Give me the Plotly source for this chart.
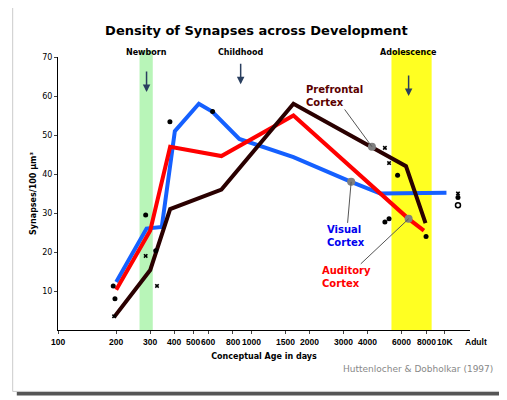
import plotly.graph_objects as go
import numpy as np

visual_x = [200, 287, 344, 402, 535, 627, 866, 1650, 3280, 4640, 10200]
visual_y = [12.3, 26, 26.4, 51, 58, 56, 49, 44.3, 38, 35, 35.2]

auditory_x = [200, 300, 380, 700, 1650, 6500, 7800]
auditory_y = [10.3, 25.5, 47, 44.6, 55, 28.5, 25.5]

prefrontal_x = [195, 300, 380, 700, 1650, 4200, 6300, 7950]
prefrontal_y = [3.3, 15.4, 31, 36, 58, 47, 42, 27.4]

dots_x = [193, 197, 284, 379, 320, 630, 4900, 5150, 5700, 8000, 11700]
dots_y = [11.3, 8, 29.5, 53.4, 20.3, 56, 27.7, 28.5, 39.7, 24, 34]
cross_x = [284, 325, 195, 4900, 5150, 11700]
cross_y = [19, 11.3, 3.5, 46.7, 42.8, 35]
open_x = [11700]
open_y = [32]

tick_vals = [100, 200, 300, 400, 500, 600, 800, 1000, 1500, 2000, 3000, 4000, 6000, 8000, 10000]
tick_text = ["100", "200", "300", "400", "500", "600", "800", "1000", "1500", "2000",
             "3000", "4000", "6000", "8000", "10K"]

fig = go.Figure()
fig.add_trace(go.Scatter(x=visual_x, y=visual_y, mode="lines", line=dict(color="#1560ff", width=4)))
fig.add_trace(go.Scatter(x=auditory_x, y=auditory_y, mode="lines", line=dict(color="#ff0000", width=4)))
fig.add_trace(go.Scatter(x=prefrontal_x, y=prefrontal_y, mode="lines", line=dict(color="#2a0000", width=4)))
fig.add_trace(go.Scatter(x=dots_x, y=dots_y, mode="markers", marker=dict(color="black", size=5)))
fig.add_trace(go.Scatter(x=cross_x, y=cross_y, mode="markers",
                         marker=dict(color="black", size=4, symbol="x")))
fig.add_trace(go.Scatter(x=open_x, y=open_y, mode="markers",
                         marker=dict(color="white", size=5, line=dict(color="black", width=1.5))))
# grey label dots
fig.add_trace(go.Scatter(x=[4200, 3280, 6500], y=[47, 38, 28.5], mode="markers",
                         marker=dict(color="#808080", size=8)))

# card frame with shadow
fig.add_shape(type="rect", xref="paper", yref="paper", x0=-0.1, x1=1.085, y0=-0.24, y1=1.185,
              line_width=0, fillcolor="#555", layer="below")
fig.add_shape(type="rect", xref="paper", yref="paper", x0=-0.11, x1=1.075, y0=-0.225, y1=1.2,
              line=dict(color="#ccc", width=1), fillcolor="white", layer="below")
# developmental bands
fig.add_shape(type="rect", xref="x", yref="paper", x0=264, x1=309, y0=0, y1=1.025,
              fillcolor="#b8f5b8", line_width=0, layer="below")
fig.add_shape(type="rect", xref="x", yref="paper", x0=5300, x1=8550, y0=0, y1=1.025,
              fillcolor="#ffff22", line_width=0, layer="below")

bold = dict(family="DejaVu Sans", size=8, color="black")
tickf = dict(family="Liberation Sans", size=8.5, color="black")
ann = []
# x tick labels drawn as annotations so none get dropped for overlap
for v, t in zip(tick_vals, tick_text):
    ann.append(dict(x=np.log10(v), y=0, xref="x", yref="paper", yanchor="top", yshift=-5,
                    showarrow=False, text="<b>%s</b>" % t, font=tickf))
for txt, xv, tip in [("Newborn", 287, 61), ("Childhood", 880, 63), ("Adolescence", 6500, 60)]:
    ann.append(dict(x=np.log10(xv), y=tip, xref="x", yref="y", text="", showarrow=True,
                    arrowhead=2, arrowsize=1, arrowwidth=1.5, ax=0, ay=-22))
    ann.append(dict(x=np.log10(xv), y=69.5, xref="x", yref="y", text="<b>" + txt + "</b>",
                    showarrow=False, yanchor="bottom", font=bold))
for txt, col, lx, ly, px, py in [("Prefrontal<br>Cortex", "#5a0000", 2700, 60, 4200, 47),
                                 ("Visual<br>Cortex", "#0000ee", 3100, 24, 3280, 38),
                                 ("Auditory<br>Cortex", "#ff0000", 3100, 13.5, 6500, 28.5)]:
    ann.append(dict(x=np.log10(px), y=py, xref="x", yref="y", text="<b>" + txt + "</b>",
                    showarrow=True, arrowhead=0, arrowwidth=1, arrowcolor="#555",
                    axref="x", ayref="y", ax=np.log10(lx), ay=ly,
                    font=dict(family="DejaVu Sans", size=10, color=col), align="left"))
ann.append(dict(x=1.045, y=0, xref="paper", yref="paper", yshift=-5, yanchor="top",
                showarrow=False, text="<b>Adult</b>", font=tickf))
ann.append(dict(x=1.06, y=-0.17, xref="paper", yref="paper", xanchor="right", showarrow=False,
                text="Huttenlocher & Dobholkar (1997)",
                font=dict(family="DejaVu Sans", size=9, color="#888")))

fig.update_layout(
    width=507, height=400,
    margin=dict(l=50, r=45, t=49, b=78),
    paper_bgcolor="white", plot_bgcolor="rgba(0,0,0,0)",
    showlegend=False,
    title=dict(text="<b>Density of Synapses across Development</b>", x=0.49, y=0.955,
               xanchor="center", font=dict(family="DejaVu Sans", size=13, color="black")),
    annotations=ann,
    xaxis=dict(type="log", range=[np.log10(100), np.log10(13500)], tickvals=tick_vals,
               showticklabels=False, showgrid=False,
               showline=True, linecolor="black",
               ticks="outside", ticklen=3, zeroline=False,
               title=dict(text="<b>Conceptual Age in days</b>", font=bold, standoff=20)),
    yaxis=dict(range=[0, 70], tickvals=[10, 20, 30, 40, 50, 60, 70], showgrid=False,
               showline=True, linecolor="black", ticks="outside", ticklen=3, tickfont=bold,
               zeroline=False,
               title=dict(text="<b>Synapses/100 µm³</b>", font=bold, standoff=4)),
)
fig.write_html("out.html")
